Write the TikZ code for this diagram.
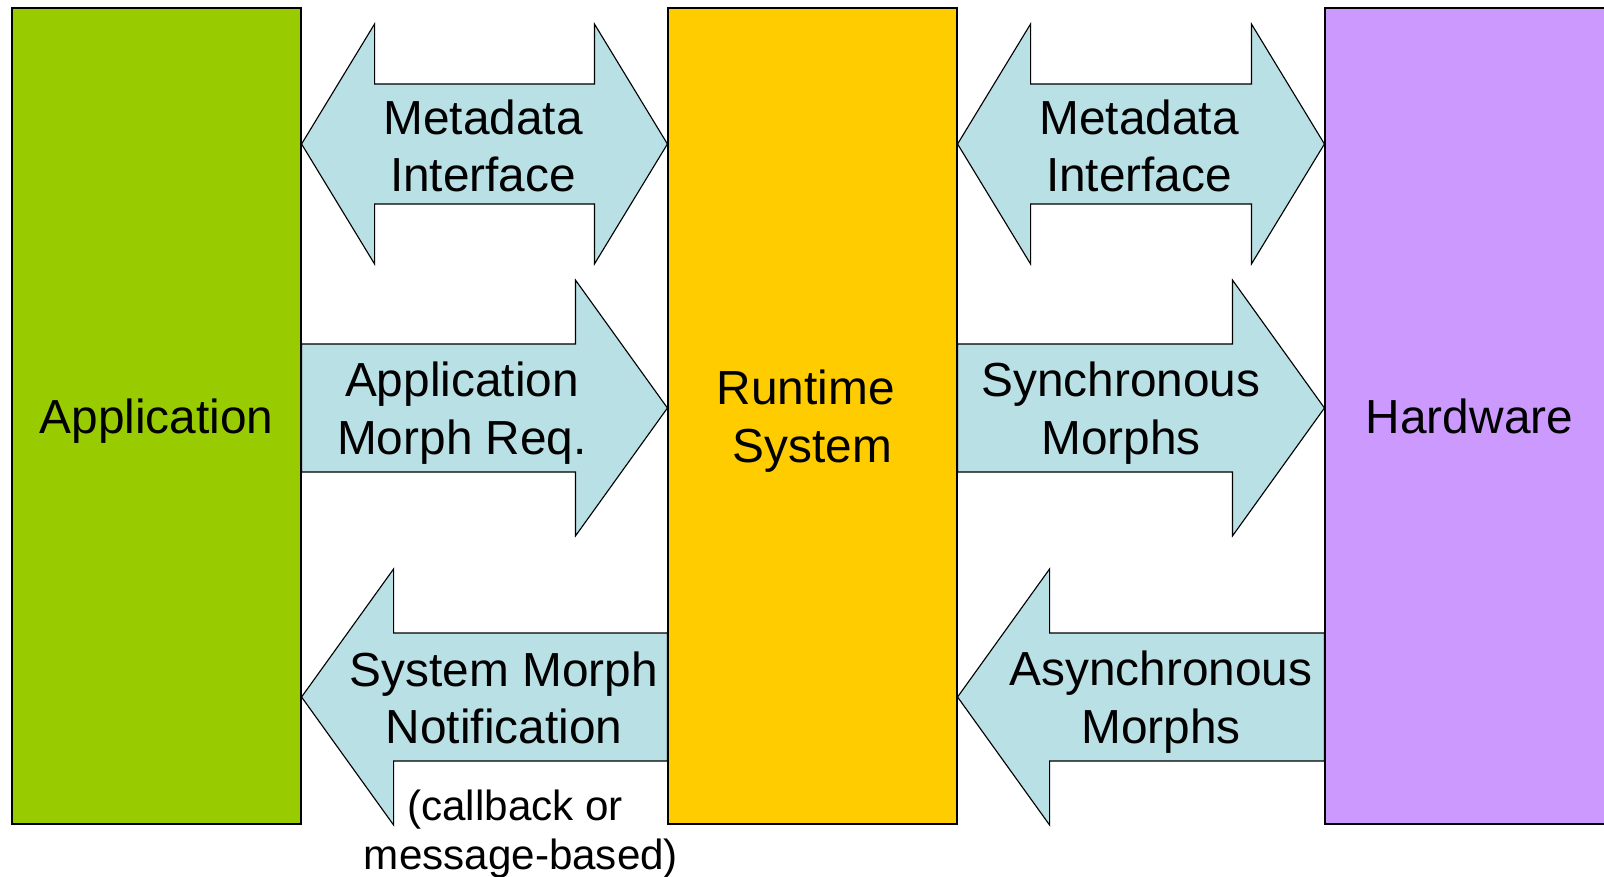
\documentclass[tikz,border=0pt]{standalone}
\usepackage{fontspec}
\setmainfont{Liberation Sans}
\definecolor{appgreen}{RGB}{153,204,0}
\definecolor{rtsyellow}{RGB}{255,204,0}
\definecolor{hwpurple}{RGB}{204,153,255}
\definecolor{arrowblue}{RGB}{185,224,229}
\usetikzlibrary{calc}
\usetikzlibrary{positioning}
\tikzset{
  layer/.style={draw, line width=0.8pt, minimum width=72.25mm, minimum height=204mm,
    inner sep=0pt, align=center, text depth=0pt},
  blockarrow/.style={draw, fill=arrowblue, line width=0.8pt, line join=miter},
  lbl/.style={align=center, inner sep=0pt},
  every node/.append style={font=\fontsize{34}{41}\selectfont}
}

\begin{document}
\begin{tikzpicture}[x=0.25mm, y=-0.25mm]
  \clip (0,0) rectangle (1604,877);

  \node [layer, fill=appgreen]  (app) at (156.5,416)  {Application};
  \node [layer, fill=rtsyellow] (rts) at (812.5,416)  {Runtime\hspace*{0.278em}\\System};
  \node [layer, fill=hwpurple]  (hw)  at (1469.5,416) {Hardware};

  \coordinate (rowA) at (0,144);
  \coordinate (rowB) at (0,408);
  \coordinate (rowC) at (0,697);

  \foreach \l/\r in {app/rts, rts/hw} {
    % metadata, both ways
    \draw [blockarrow] (\l.east |- rowA) -- ++(73,-120) -- ++(0,60)
      -- ($(\r.west |- rowA)+(-73,-60)$) -- ++(0,-60) -- (\r.west |- rowA)
      -- ++(-73,120) -- ++(0,-60) -- ($(\l.east |- rowA)+(73,60)$) -- ++(0,60) -- cycle;
    % to the right
    \draw [blockarrow] ($(\l.east |- rowB)+(0,-64)$) -- ($(\r.west |- rowB)+(-92,-64)$)
      -- ++(0,-64) -- (\r.west |- rowB) -- ++(-92,128) -- ++(0,-64)
      -- ($(\l.east |- rowB)+(0,64)$) -- cycle;
    % to the left
    \draw [blockarrow] (\l.east |- rowC) -- ++(92,-128) -- ++(0,64)
      -- ($(\r.west |- rowC)+(0,-64)$) -- ++(0,128)
      -- ($(\l.east |- rowC)+(92,64)$) -- ++(0,64) -- cycle;
  }

  \node [lbl] (metaL)  at (483,146)  {Metadata\\Interface};
  \node [lbl] (metaR)  at (1139,146) {Metadata\\Interface};
  \node [lbl] (appreq) at (462,413)  {Application\\Morph Req.};
  \node [lbl] (syncm)  at (1121,413) {Synchronous\\Morphs};
  \node [lbl] (notif)  at (504,698)  {System Morph\\Notification};
  \node [lbl] (asyncm) at (1161,702) {Asynchronous\\Morphs};
  \node [lbl, font=\fontsize{30}{35}\selectfont] (cbnote) at (521,834)
    {(callback or\hspace*{0.278em}\\message-based)};

\end{tikzpicture}
\end{document}
